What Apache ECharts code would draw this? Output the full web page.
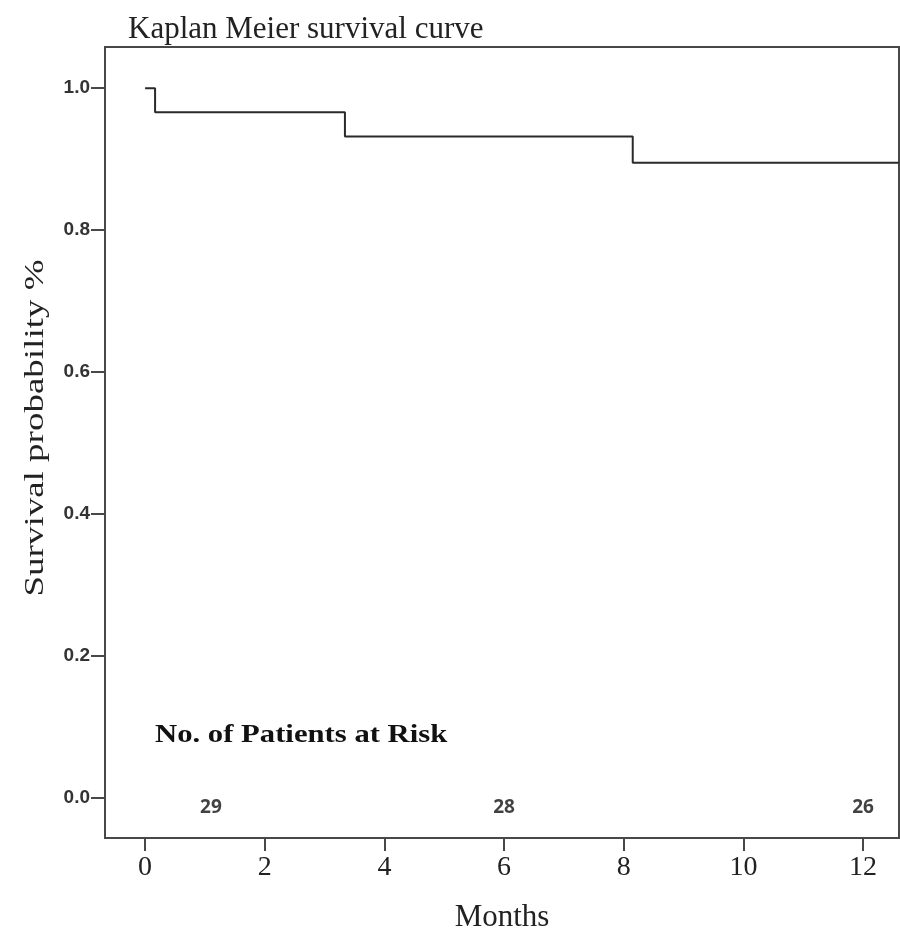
<!DOCTYPE html>
<html>
<head>
<meta charset="utf-8">
<script src="https://cdn.jsdelivr.net/npm/echarts@6/dist/echarts.min.js"></script>
<style>
html,body{margin:0;padding:0;background:#fff;}
#chart{width:900px;height:942px;}
</style>
</head>
<body>
<div id="chart"></div>
<script>
// Kaplan-Meier step data (months, survival probability)
const timePoints = [0, 0.167, 3.34, 8.15, 12.6];
const survival = [1.0, 0.966, 0.932, 0.895, 0.895];
// Tick values
const xTicks = [0, 2, 4, 6, 8, 10, 12];
const yTicks = [0.0, 0.2, 0.4, 0.6, 0.8, 1.0];
// Number at risk
const riskTimes = [1.1, 6, 12];
const riskCounts = [29, 28, 26];
const riskRowY = -0.0134;

const chart = echarts.init(document.getElementById('chart'), null, {renderer: 'canvas'});
const serif = "'Liberation Serif', 'Times New Roman', serif";
const frame = '#484848';

const option = {
  backgroundColor: '#ffffff',
  animation: false,
  title: {
    text: 'Kaplan Meier survival curve',
    left: 123,
    top: 9,
    textStyle: {fontFamily: serif, fontSize: 31, fontWeight: 'normal', color: '#222'}
  },
  grid: {
    left: 105, top: 47, right: 1, bottom: 104,
    show: true, borderColor: frame, borderWidth: 2, backgroundColor: 'transparent'
  },
  xAxis: {
    type: 'value',
    min: -0.67, max: 12.6,
    name: 'Months',
    nameLocation: 'middle',
    nameGap: 64,
    nameTextStyle: {fontFamily: serif, fontSize: 31, color: '#222'},
    axisLine: {show: true, onZero: false, lineStyle: {color: frame, width: 2}},
    axisTick: {show: true, customValues: xTicks, length: 13, lineStyle: {color: frame, width: 2}},
    axisLabel: {customValues: xTicks, fontFamily: serif, fontSize: 28, color: '#222', margin: 16},
    splitLine: {show: false}
  },
  yAxis: {
    type: 'value',
    min: -0.056, max: 1.058,
    axisLine: {show: true, onZero: false, lineStyle: {color: frame, width: 2}},
    axisTick: {show: true, customValues: yTicks, length: 14, lineStyle: {color: frame, width: 2}},
    axisLabel: {
      customValues: yTicks, margin: 15,
      fontFamily: "'Liberation Sans', Arial, sans-serif", fontSize: 19, fontWeight: 'bold', color: '#333',
      formatter: v => v.toFixed(1)
    },
    splitLine: {show: false}
  },
  graphic: [{
    type: 'text',
    x: 155, y: 735,
    scaleX: 1.18,
    style: {
      text: 'No. of Patients at Risk',
      font: "bold 26px 'Liberation Serif', 'Times New Roman', serif",
      fill: '#111',
      verticalAlign: 'middle',
      align: 'left'
    }
  }, {
    type: 'text',
    x: 36, y: 428,
    rotation: Math.PI / 2,
    scaleX: 1.37,
    style: {
      text: 'Survival probability %',
      font: "27px 'Liberation Serif', 'Times New Roman', serif",
      fill: '#222',
      verticalAlign: 'middle',
      align: 'center'
    }
  }],
  series: [{
    type: 'line',
    step: 'end',
    data: timePoints.map((t, i) => [t, survival[i]]),
    symbol: 'none',
    lineStyle: {color: '#2a2a2a', width: 2},
    clip: true
  }, {
    type: 'scatter',
    data: riskTimes.map((t, i) => [t, riskRowY, riskCounts[i]]),
    symbolSize: 0,
    label: {
      show: true, position: 'inside',
      formatter: p => String(p.value[2]),
      fontFamily: "'Open Sans', Lato, sans-serif", fontSize: 19, fontWeight: 'bold', color: '#111'
    }
  }]
};
chart.setOption(option);
</script>
</body>
</html>
